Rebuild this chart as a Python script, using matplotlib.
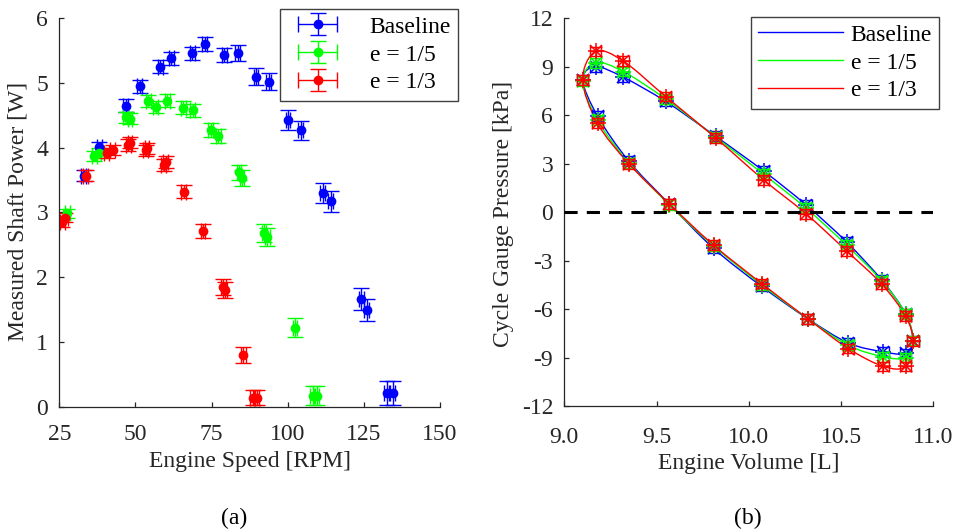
import numpy as np
import matplotlib
matplotlib.use("Agg")
import matplotlib.pyplot as plt
from matplotlib.path import Path
from matplotlib.patches import PathPatch
from matplotlib.legend_handler import HandlerErrorbar
from matplotlib.lines import Line2D

plt.rcParams['font.family'] = ['Liberation Serif', 'DejaVu Serif']
plt.rcParams['font.size'] = 17
plt.rcParams['axes.unicode_minus'] = False

# ---------------- Data: panel (a) ----------------
labels = ["Baseline", "e = 1/5", "e = 1/3"]
colors = ["#0000ff", "#00ff00", "#ff0000"]

base_speed = [33.0, 38.1, 46.8, 51.4, 58.2, 61.7, 68.6, 72.8, 79.1, 83.6,
              89.6, 93.7, 100.1, 104.2, 111.5, 114.1, 124.2, 125.9, 132.5, 134.5]
base_power = [3.57, 4.01, 4.65, 4.95, 5.25, 5.38, 5.46, 5.60, 5.43, 5.46,
              5.10, 5.02, 4.43, 4.27, 3.30, 3.17, 1.66, 1.50, 0.21, 0.21]
base_err = [0.08, 0.08, 0.10, 0.10, 0.10, 0.10, 0.10, 0.11, 0.11, 0.12,
            0.13, 0.13, 0.15, 0.15, 0.16, 0.16, 0.17, 0.17, 0.19, 0.19]

e5_speed = [27.6, 36.5, 38.0, 46.8, 48.2, 54.2, 56.7, 60.4, 65.7, 68.8,
            74.7, 77.2, 84.0, 85.0, 92.2, 93.3, 102.4, 108.2, 109.5]
e5_power = [2.99, 3.87, 3.92, 4.47, 4.45, 4.72, 4.63, 4.73, 4.62, 4.58,
            4.28, 4.18, 3.62, 3.53, 2.68, 2.62, 1.22, 0.17, 0.17]
e5_err = [0.07, 0.08, 0.08, 0.09, 0.09, 0.09, 0.09, 0.10, 0.10, 0.10,
          0.11, 0.11, 0.12, 0.12, 0.14, 0.14, 0.15, 0.15, 0.15]

e3_speed = [26.0, 27.0, 33.7, 40.5, 42.5, 47.6, 48.2, 53.4, 53.8, 59.3,
            60.0, 65.8, 72.2, 78.8, 79.4, 85.4, 88.5, 89.8]
e3_power = [2.85, 2.92, 3.57, 3.92, 3.97, 4.04, 4.08, 3.96, 3.99, 3.73,
            3.78, 3.32, 2.71, 1.85, 1.80, 0.80, 0.14, 0.14]
e3_err = [0.07, 0.07, 0.08, 0.08, 0.08, 0.09, 0.09, 0.09, 0.09, 0.09,
          0.09, 0.10, 0.11, 0.12, 0.12, 0.12, 0.12, 0.12]

speed_err = 0.8  # RPM

# ---------------- Data: panel (b) ----------------
volume = [9.10, 9.17, 9.32, 9.55, 9.82, 10.08, 10.31, 10.53, 10.72, 10.85,
          10.89, 10.85, 10.73, 10.54, 10.32, 10.07, 9.81, 9.57, 9.35, 9.18]
p_base = [8.20, 9.00, 8.35, 6.85, 4.70, 2.55, 0.45, -1.85, -4.20, -6.30,
          -7.95, -8.75, -8.65, -8.10, -6.60, -4.60, -2.25, 0.50, 3.15, 5.95]
p_e5 = [8.10, 9.25, 8.70, 7.00, 4.65, 2.35, 0.25, -2.05, -4.25, -6.30,
        -7.95, -9.00, -8.95, -8.25, -6.60, -4.50, -2.10, 0.45, 3.05, 5.70]
p_e3 = [8.20, 9.95, 9.35, 7.15, 4.60, 2.00, -0.10, -2.40, -4.45, -6.45,
        -8.00, -9.55, -9.55, -8.45, -6.60, -4.42, -2.05, 0.50, 3.00, 5.50]
vol_err = 0.03
p_err = 0.3

# ---------------- Figure ----------------
W, H = 959, 530
fig = plt.figure(figsize=(W / 100, H / 100), dpi=100)

def fx(px):
    return px / W

def fy(py):
    return 1 - py / H

L_box = (59.3, 406.7, 440.0, 18.3)   # left, bottom, right, top (pixels)
R_box = (564.3, 406.0, 933.3, 18.3)
axL = fig.add_axes([fx(L_box[0]), fy(L_box[1]), fx(L_box[2]) - fx(L_box[0]), fy(L_box[3]) - fy(L_box[1])])
axR = fig.add_axes([fx(R_box[0]), fy(R_box[1]), fx(R_box[2]) - fx(R_box[0]), fy(R_box[3]) - fy(R_box[1])])

def ax_coords(box, px, py):
    return ((px - box[0]) / (box[2] - box[0]), (box[1] - py) / (box[1] - box[3]))

spine_c = "#262626"
for ax in (axL, axR):
    for s in ("top", "right"):
        ax.spines[s].set_visible(False)
    for s in ("left", "bottom"):
        ax.spines[s].set_color(spine_c)
        ax.spines[s].set_linewidth(0.9)
    ax.tick_params(direction="in", length=3.5, width=0.9, color=spine_c,
                   labelcolor="#262626", labelsize=17)
    ax.tick_params(axis="y", pad=8)
axL.tick_params(axis="x", pad=12.5)
axR.tick_params(axis="x", pad=15)

# Panel (a)
series = [(base_speed, base_power, base_err), (e5_speed, e5_power, e5_err),
          (e3_speed, e3_power, e3_err)]
handles = []
for (xs, ys, es), c, lab in zip(series, colors, labels):
    h = axL.errorbar(xs, ys, yerr=es, xerr=speed_err, fmt="o", color=c,
                     ms=6, mec=c, mfc=c, elinewidth=1.0, capsize=5.5,
                     capthick=1.0, label=lab)
    handles.append(h)

axL.set_xlim(25, 150)
axL.set_ylim(0, 6)
axL.set_xticks([25, 50, 75, 100, 125, 150])
axL.set_yticks([0, 1, 2, 3, 4, 5, 6])
axL.set_xlabel("Engine Speed [RPM]", fontsize=17, color="#262626", va="center")
axL.xaxis.set_label_coords(*ax_coords(L_box, 249.6, 462))
axL.set_ylabel("Measured Shaft Power [W]", fontsize=17, color="#262626", va="center")
axL.yaxis.set_label_coords(*ax_coords(L_box, 18, 211))

legL = fig.legend(handles=handles, labels=labels, loc="upper right",
                  bbox_to_anchor=(fx(458), fy(9)), bbox_transform=fig.transFigure,
                  fancybox=False, edgecolor="#404040", framealpha=1,
                  handler_map={type(handles[0]): HandlerErrorbar(xerr_size=0.82, yerr_size=0.47)},
                  handlelength=2.6, handletextpad=0.9, labelspacing=0.27,
                  borderpad=0.3, borderaxespad=0, fontsize=17)
legL.get_frame().set_linewidth(1.0)

# Panel (b)
def closed_smooth_path(xs, ys):
    pts = np.column_stack([xs, ys])
    n = len(pts)
    verts = [pts[0]]
    codes = [Path.MOVETO]
    for i in range(n):
        p0 = pts[(i - 1) % n]
        p1 = pts[i]
        p2 = pts[(i + 1) % n]
        p3 = pts[(i + 2) % n]
        c1 = p1 + (p2 - p0) / 6.0
        c2 = p2 - (p3 - p1) / 6.0
        verts += [c1, c2, p2]
        codes += [Path.CURVE4, Path.CURVE4, Path.CURVE4]
    return Path(verts, codes)

pressures = [p_base, p_e5, p_e3]
for ps, c in zip(pressures, colors):
    patch = PathPatch(closed_smooth_path(volume, ps), facecolor="none",
                      edgecolor=c, linewidth=1.0, zorder=2)
    axR.add_patch(patch)
for k, (ps, c) in enumerate(zip(pressures, colors)):
    z = 3 + k * 0.1
    axR.errorbar(volume, ps, yerr=p_err, xerr=vol_err, fmt="none", ecolor=c,
                 elinewidth=1.0, capsize=4, capthick=1.0, zorder=z)
    axR.plot(volume, ps, linestyle="none", marker="+", ms=11, mew=1.1, color=c, zorder=z)
    axR.plot(volume, ps, linestyle="none", marker="x", ms=8, mew=1.1, color=c, zorder=z)

axR.axhline(0, color="black", linewidth=2.2, dashes=(4.3, 3.0), zorder=4)

axR.set_xlim(9.0, 11.0)
axR.set_ylim(-12, 12)
axR.set_xticks([9.0, 9.5, 10.0, 10.5, 11.0])
axR.set_xticklabels(["9.0", "9.5", "10.0", "10.5", "11.0"])
axR.set_yticks([-12, -9, -6, -3, 0, 3, 6, 9, 12])
axR.set_xlabel("Engine Volume [L]", fontsize=17, color="#262626", va="center")
axR.xaxis.set_label_coords(*ax_coords(R_box, 748.8, 464))
axR.set_ylabel("Cycle Gauge Pressure [kPa]", fontsize=17, color="#262626", va="center")
axR.yaxis.set_label_coords(*ax_coords(R_box, 503, 214))

line_handles = [Line2D([], [], color=c, linewidth=1.0) for c in colors]
legR = fig.legend(handles=line_handles, labels=labels, loc="upper right",
                  bbox_to_anchor=(fx(939), fy(17)), bbox_transform=fig.transFigure,
                  fancybox=False, edgecolor="#404040", framealpha=1,
                  handlelength=3.6, handletextpad=0.3, labelspacing=0.27,
                  borderpad=0.3, borderaxespad=0, fontsize=17)
legR.get_frame().set_linewidth(1.0)

fig.text(fx(234), fy(518), "(a)", ha="center", va="center", fontsize=17)
fig.text(fx(748), fy(518), "(b)", ha="center", va="center", fontsize=17)

fig.savefig("out.png", dpi=100)
